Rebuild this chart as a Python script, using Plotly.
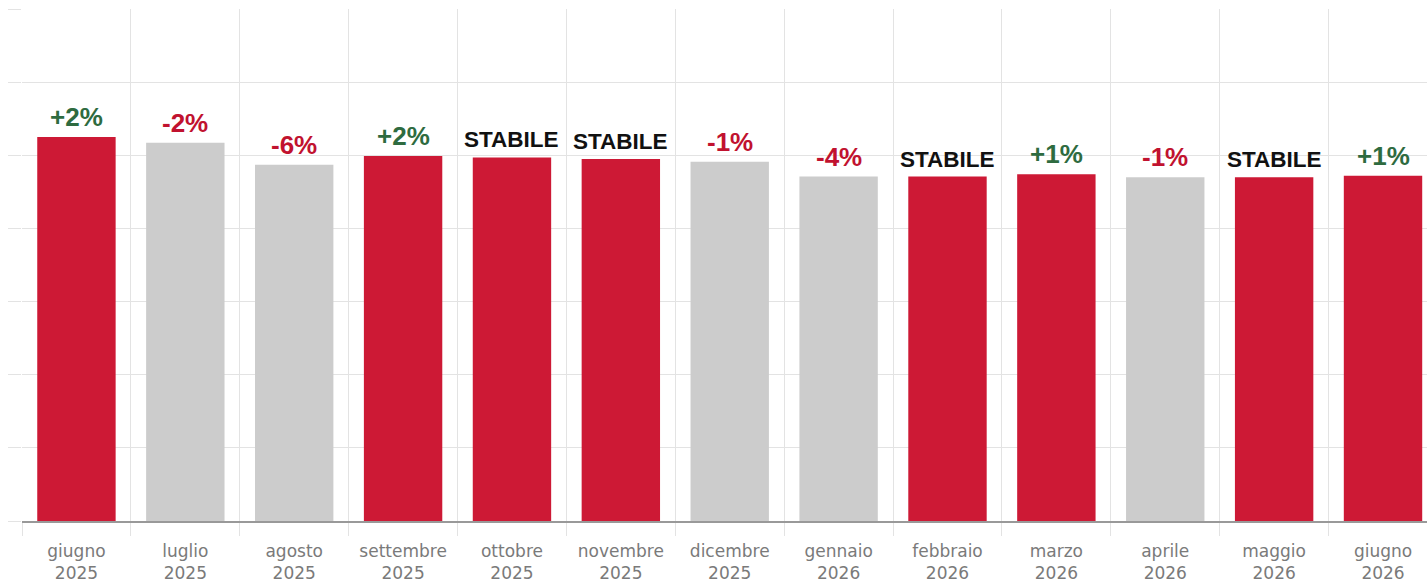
import plotly.graph_objects as go

mesi = ["giugno<br>2025", "luglio<br>2025", "agosto<br>2025", "settembre<br>2025",
        "ottobre<br>2025", "novembre<br>2025", "dicembre<br>2025", "gennaio<br>2026",
        "febbraio<br>2026", "marzo<br>2026", "aprile<br>2026", "maggio<br>2026",
        "giugno<br>2026"]
valori = [52.5, 51.7, 48.7, 49.9, 49.7, 49.5, 49.1, 47.1, 47.1, 47.4, 47.0, 47.0, 47.2]
etichette = ["+2%", "-2%", "-6%", "+2%", "STABILE", "STABILE", "-1%", "-4%",
             "STABILE", "+1%", "-1%", "STABILE", "+1%"]
evidenziato = [True, False, False, True, True, True, False, False, True, True, False, True, True]

ROSSO = "#CD1935"
GRIGIO = "#CCCCCC"

def colore_testo(t):
    if t.startswith("+"):
        return "#2E6B40"
    if t.startswith("-"):
        return "#C1122F"
    return "#111111"

bar_colors = [ROSSO if e else GRIGIO for e in evidenziato]
text_colors = [colore_testo(t) for t in etichette]
text_sizes = [22.5 if t == "STABILE" else 26 for t in etichette]

fig = go.Figure(go.Bar(
    x=mesi, y=valori, width=0.72,
    marker=dict(color=bar_colors, line=dict(width=0)),
    hoverinfo="skip",
))

for m, v, t, c, s in zip(mesi, valori, etichette, text_colors, text_sizes):
    fig.add_annotation(
        x=m, y=v, text=t, showarrow=False, yanchor="bottom", yshift=3,
        font=dict(family="Liberation Sans, Arial, sans-serif", color=c, size=s, weight="bold"),
    )

fig.update_layout(
    width=1427, height=583,
    margin=dict(l=22, r=0, t=9, b=62),
    plot_bgcolor="white", paper_bgcolor="white",
    showlegend=False,
    font=dict(family="Liberation Sans, Arial, sans-serif"),
)
fig.update_xaxes(
    range=[-0.5, 12.404],
    tickson="boundaries", ticks="outside", ticklen=13, tickcolor="#E3E3E3", tickwidth=1,
    showgrid=True, gridcolor="#E3E3E3", gridwidth=1,
    showline=True, linecolor="#999999", linewidth=1.5,
    tickfont=dict(family="DejaVu Sans, sans-serif", size=17, color="#7A7A7A"),
    ticklabelstandoff=14,
)
fig.update_yaxes(
    range=[0, 70], dtick=10, showticklabels=False,
    ticks="outside", ticklen=13, tickcolor="#E3E3E3",
    showgrid=True, gridcolor="#E3E3E3", gridwidth=1,
    zeroline=False, showline=False,
)

fig.write_html("out.html")
